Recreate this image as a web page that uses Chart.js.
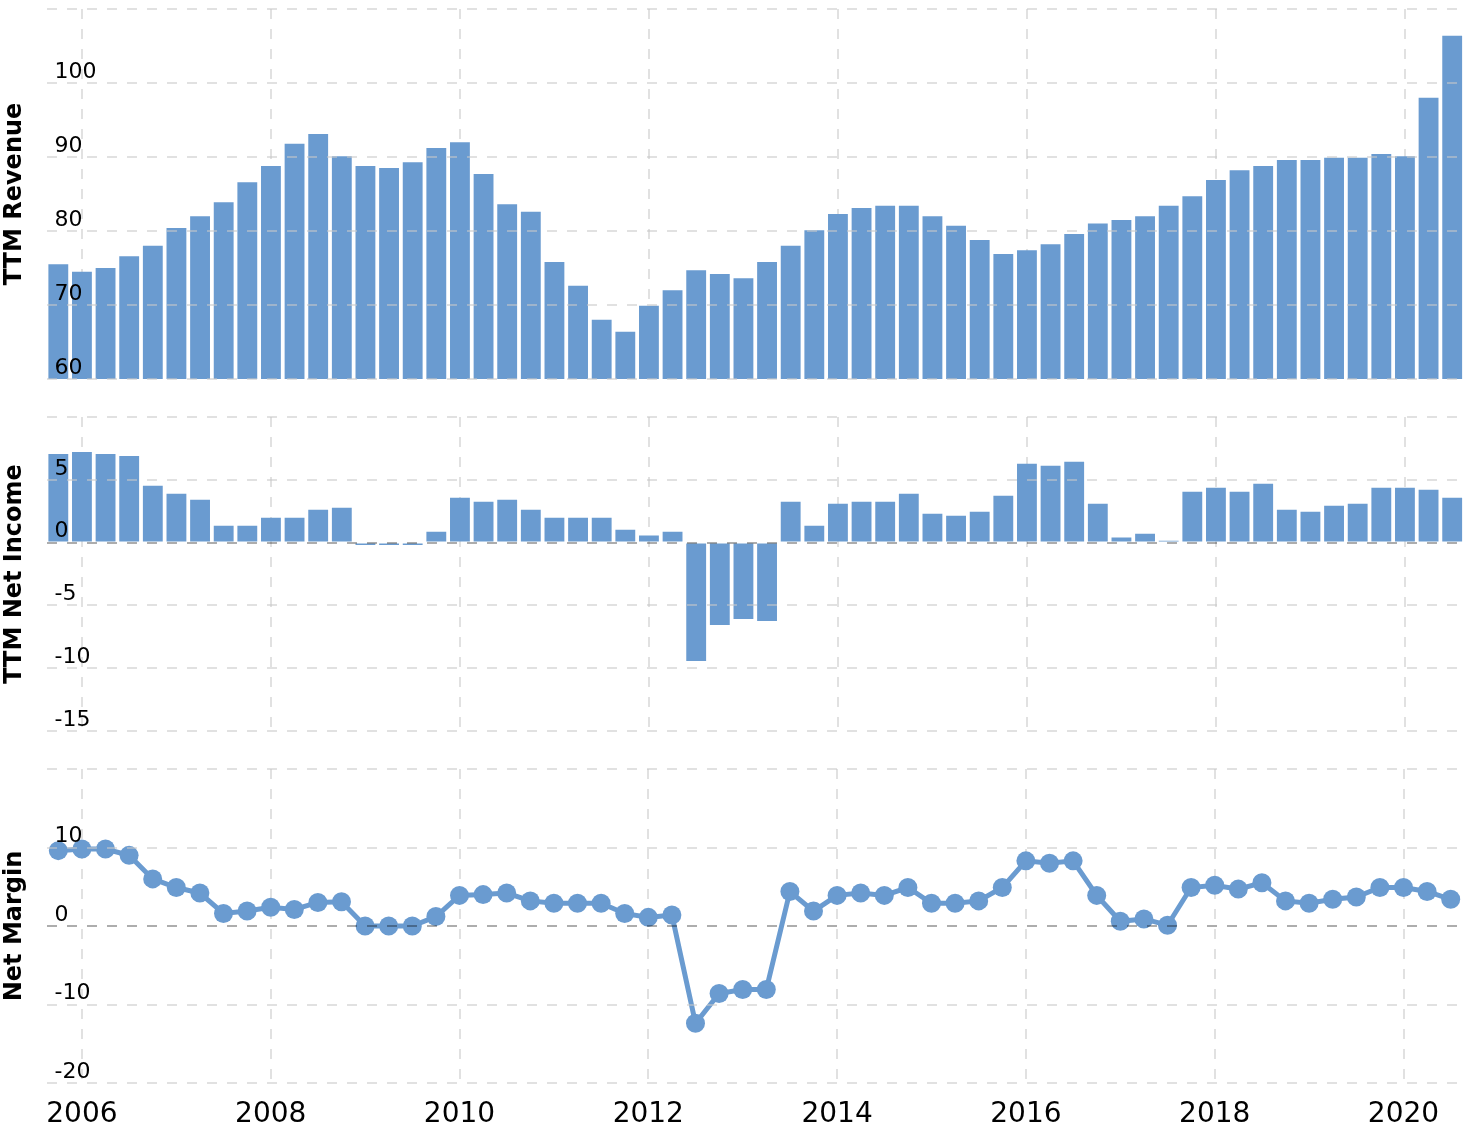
<!DOCTYPE html>
<html>
<head>
<meta charset="utf-8">
<script src="https://cdn.jsdelivr.net/npm/chart.js@4.4.0/dist/chart.umd.min.js"></script>
<style>
  html, body { margin: 0; padding: 0; background: #fff; }
  #wrap { position: relative; width: 1472px; height: 1128px; }
  .panel { position: absolute; left: 0; width: 1472px; }
  #revenue-panel { top: 0; height: 390px; }
  #income-panel { top: 400px; height: 340px; }
  #margin-panel { top: 750px; height: 378px; }
</style>
</head>
<body>
<div id="wrap">
  <div class="panel" id="revenue-panel"><canvas id="revenue-chart"></canvas></div>
  <div class="panel" id="income-panel"><canvas id="income-chart"></canvas></div>
  <div class="panel" id="margin-panel"><canvas id="margin-chart"></canvas></div>
</div>
<script>
// ====== DATA ======
const quarters = [
  '2005-09', '2005-12',
  '2006-03', '2006-06', '2006-09', '2006-12',
  '2007-03', '2007-06', '2007-09', '2007-12',
  '2008-03', '2008-06', '2008-09', '2008-12',
  '2009-03', '2009-06', '2009-09', '2009-12',
  '2010-03', '2010-06', '2010-09', '2010-12',
  '2011-03', '2011-06', '2011-09', '2011-12',
  '2012-03', '2012-06', '2012-09', '2012-12',
  '2013-03', '2013-06', '2013-09', '2013-12',
  '2014-03', '2014-06', '2014-09', '2014-12',
  '2015-03', '2015-06', '2015-09', '2015-12',
  '2016-03', '2016-06', '2016-09', '2016-12',
  '2017-03', '2017-06', '2017-09', '2017-12',
  '2018-03', '2018-06', '2018-09', '2018-12',
  '2019-03', '2019-06', '2019-09', '2019-12',
  '2020-03', '2020-06'
];

// TTM revenue
const revenue = [
  75.5, 74.5,
  75.0, 76.6, 78.0, 80.4,
  82.0, 83.9, 86.6, 88.8,
  91.8, 93.1, 90.1, 88.8,
  88.5, 89.3, 91.2, 92.0,
  87.7, 83.6, 82.6, 75.8,
  72.6, 68.0, 66.4, 69.9,
  72.0, 74.7, 74.2, 73.6,
  75.8, 78.0, 80.1, 82.3,
  83.1, 83.4, 83.4, 82.0,
  80.7, 78.8, 76.9, 77.4,
  78.2, 79.6, 81.0, 81.5,
  82.0, 83.4, 84.7, 86.9,
  88.2, 88.8, 89.6, 89.6,
  89.9, 89.9, 90.4, 90.1,
  98.0, 106.4
];

// TTM net income
const netIncome = [
  7.06, 7.22,
  7.06, 6.90, 4.52, 3.89,
  3.41, 1.35, 1.35, 1.98,
  1.98, 2.62, 2.78, -0.2,
  -0.2, -0.2, 0.87, 3.57,
  3.25, 3.41, 2.62, 1.98,
  1.98, 1.98, 1.03, 0.56,
  0.87, -9.42, -6.56, -6.08,
  -6.24, 3.25, 1.35, 3.10,
  3.25, 3.25, 3.89, 2.30,
  2.14, 2.46, 3.73, 6.27,
  6.11, 6.43, 3.10, 0.40,
  0.71, 0.15, 4.05, 4.37,
  4.05, 4.68, 2.62, 2.46,
  2.94, 3.10, 4.37, 4.37,
  4.21, 3.57
];

// net margin (%)
const netMargin = [
  9.6, 9.8,
  9.8, 9.0, 6.0, 4.9,
  4.2, 1.6, 1.9, 2.4,
  2.1, 3.0, 3.1, 0.0,
  0.0, 0.0, 1.2, 3.9,
  4.0, 4.2, 3.2, 2.9,
  2.9, 2.9, 1.6, 1.1,
  1.4, -12.4, -8.6, -8.1,
  -8.1, 4.4, 1.9, 3.9,
  4.2, 3.9, 4.9, 2.9,
  2.9, 3.2, 4.9, 8.3,
  8.0, 8.3, 3.9, 0.6,
  0.9, 0.1, 4.9, 5.2,
  4.7, 5.5, 3.2, 2.9,
  3.4, 3.7, 4.9, 4.9,
  4.4, 3.4
];

// tick labels
const yearLabels = ['2006', '2008', '2010', '2012', '2014', '2016', '2018', '2020'];
const revenueTicks = [60, 70, 80, 90, 100];
const incomeTicks = [-15, -10, -5, 0, 5];
const marginTicks = [-20, -10, 0, 10];

// ====== STYLE ======
const barColor = '#6a9bd0';
const gridColor = 'rgba(200, 200, 200, 0.55)';
const zeroColor = 'rgba(0, 0, 0, 0.32)';
const fontFamily = '"DejaVu Sans", Verdana, sans-serif';

// year gridlines sit on the December quarter before each labelled year
function yearTicks(scale) {
    scale.ticks = yearLabels.map(y => ({ value: quarters.indexOf((Number(y) - 1) + '-12') }));
}

function xAxis(showLabels) {
    return {
        type: 'category',
        offset: true,
        border: { display: false, dash: [10, 10] },
        grid: { offset: false, drawTicks: false, color: gridColor, lineWidth: 2 },
        afterBuildTicks: yearTicks,
        ticks: {
            display: showLabels,
            autoSkip: false,
            maxRotation: 0,
            padding: 15,
            color: '#000',
            font: { family: fontFamily, size: 28 },
            callback: (v, i) => yearLabels[i]
        },
        afterFit: s => {
            if (showLabels) s.height = 45;
            s.paddingLeft = 0;
            s.paddingRight = 0;
        }
    };
}

function yAxis(min, max, step, shown, title) {
    return {
        min: min,
        max: max,
        border: { display: false, dash: [10, 10] },
        grid: {
            z: 1,
            drawTicks: false,
            lineWidth: 2,
            color: ctx => (ctx.tick && ctx.tick.value === 0 && min < 0) ? zeroColor : gridColor
        },
        ticks: {
            z: 1,
            stepSize: step,
            mirror: true,
            padding: 8,
            labelOffset: -11,
            color: '#000',
            font: { family: fontFamily, size: 22 },
            callback: v => shown.includes(v) ? String(v) : ''
        },
        title: {
            display: true,
            text: title,
            color: '#000',
            padding: { top: 0, bottom: 0 },
            font: { family: fontFamily, size: 24, weight: 'bold' }
        },
        afterFit: s => {
            s.width = 46.5;
            s.paddingTop = 0;
            s.paddingBottom = 0;
        }
    };
}

function baseOptions(padTop, padBottom, x, y) {
    return {
        responsive: true,
        maintainAspectRatio: false,
        animation: false,
        layout: { padding: { top: padTop, bottom: padBottom, left: 0, right: 8 } },
        plugins: { legend: { display: false }, tooltip: { enabled: false } },
        scales: { x: x, y: y }
    };
}

new Chart(document.getElementById('revenue-chart'), {
    type: 'bar',
    data: {
        labels: quarters,
        datasets: [{
            label: 'TTM Revenue',
            data: revenue,
            backgroundColor: barColor,
            categoryPercentage: 1,
            barPercentage: 0.84
        }]
    },
    options: baseOptions(9, 11, xAxis(false), yAxis(60, 110, 10, revenueTicks, 'TTM Revenue'))
});

new Chart(document.getElementById('income-chart'), {
    type: 'bar',
    data: {
        labels: quarters,
        datasets: [{
            label: 'TTM Net Income',
            data: netIncome,
            backgroundColor: barColor,
            categoryPercentage: 1,
            barPercentage: 0.84
        }]
    },
    options: baseOptions(17, 9, xAxis(false), yAxis(-15, 10, 5, incomeTicks, 'TTM Net Income'))
});

new Chart(document.getElementById('margin-chart'), {
    type: 'line',
    data: {
        labels: quarters,
        datasets: [{
            label: 'Net Margin',
            data: netMargin,
            borderColor: barColor,
            backgroundColor: barColor,
            borderWidth: 5,
            pointRadius: 9.5,
            pointBorderWidth: 0,
            pointBackgroundColor: barColor,
            tension: 0
        }]
    },
    options: baseOptions(19, 0, xAxis(true), yAxis(-20, 20, 10, marginTicks, 'Net Margin'))
});
</script>
</body>
</html>
